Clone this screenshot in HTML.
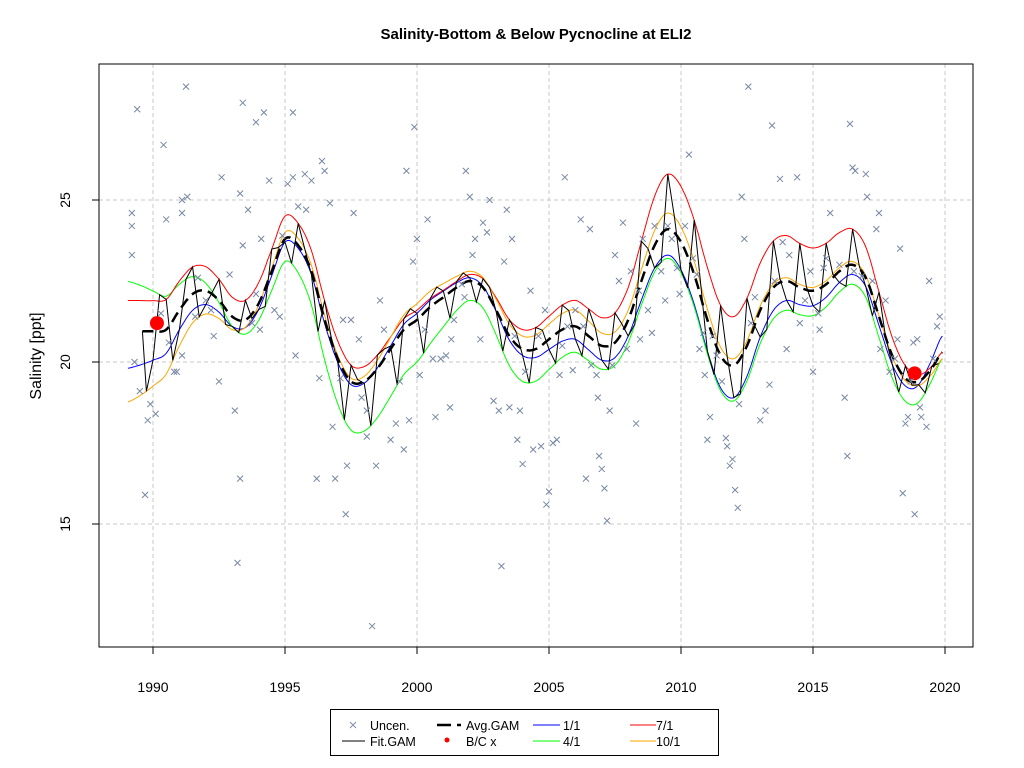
<!DOCTYPE html>
<html><head><meta charset="utf-8"><style>
html,body{margin:0;padding:0;background:#fff;}
svg{display:block;font-family:"Liberation Sans",Arial,sans-serif;}
</style></head><body>
<svg id="chart" width="1024" height="768" viewBox="0 0 1024 768" xmlns="http://www.w3.org/2000/svg">
<rect width="1024" height="768" fill="#fff"/>
<text x="536" y="39" text-anchor="middle" font-size="15" font-weight="bold">Salinity-Bottom &amp; Below Pycnocline at ELI2</text>
<text transform="translate(41,356) rotate(-90)" text-anchor="middle" font-size="16">Salinity [ppt]</text>
<g id="grid"></g>
<g id="curves"></g>
<g id="points"></g>
<rect x="99" y="64" width="874" height="583" fill="none" stroke="#000" stroke-width="1"/>
<g id="axes"></g>
<g>
<rect x="330.5" y="709.5" width="388" height="46" fill="#fff" stroke="#000"/>
<g><path d="M350,722 l6,6 M356,722 l-6,6" stroke="#8090a8" stroke-width="1"/><text x="370" y="730" font-size="12.5">Uncen.</text></g>
<g><path d="M437,725 h14 M457,725 h4" stroke="#000" stroke-width="2.5"/><text x="466" y="730" font-size="12.5">Avg.GAM</text></g>
<g><path d="M533,725 h27" stroke="#0000ff"/><text x="563" y="730" font-size="12.5">1/1</text></g>
<g><path d="M630,725 h26" stroke="#ff0000"/><text x="656" y="730" font-size="12.5">7/1</text></g>
<g><path d="M342,741 h23" stroke="#000"/><text x="370" y="746" font-size="12.5">Fit.GAM</text></g>
<g><circle cx="447" cy="740" r="2.5" fill="#ff0000"/><text x="466" y="746" font-size="12.5">B/C x</text></g>
<g><path d="M533,741 h27" stroke="#00ff00"/><text x="563" y="746" font-size="12.5">4/1</text></g>
<g><path d="M630,741 h26" stroke="#ffa500"/><text x="656" y="746" font-size="12.5">10/1</text></g>
</g>
</svg>
<script>
const xTicks=[1990,1995,2000,2005,2010,2015,2020];
const yTicks=[15,20,25];
const ptYears=[1989.2,1989.2,1989.2,1989.4,1989.3,1989.5,1989.7,1989.8,1989.9,1990.1,1990.3,1990.4,1990.5,1990.6,1990.8,1990.9,1991.1,1991.1,1991.25,1991.3,1991.1,1991.6,1991.7,1992.0,1992.2,1992.3,1992.5,1992.6,1992.9,1993.1,1993.2,1993.3,1993.3,1993.4,1993.4,1993.6,1993.75,1993.9,1994.05,1994.1,1993.9,1994.2,1994.4,1994.6,1994.8,1994.9,1995.1,1995.3,1995.3,1995.4,1995.5,1995.75,1995.8,1996.0,1996.2,1996.3,1996.4,1996.5,1996.7,1996.8,1996.9,1997.1,1997.2,1997.3,1997.35,1997.5,1997.6,1997.8,1997.9,1998.1,1998.1,1998.3,1998.45,1998.6,1998.75,1999.0,1999.2,1999.35,1999.5,1999.6,1999.7,1999.85,1999.9,2000.0,2000.1,2000.3,2000.4,2000.6,2000.7,2000.9,2001.1,2001.25,2001.3,2001.4,2001.7,2001.8,2001.85,2002.0,2002.1,2002.2,2002.4,2002.5,2002.65,2002.75,2002.9,2003.1,2003.2,2003.3,2003.4,2003.5,2003.6,2003.7,2003.8,2003.9,2004.0,2004.1,2004.3,2004.4,2004.6,2004.7,2004.85,2004.9,2005.0,2005.15,2005.3,2005.4,2005.5,2005.6,2005.7,2005.9,2006.0,2006.2,2006.3,2006.4,2006.55,2006.6,2006.8,2006.85,2006.9,2007.0,2007.1,2007.2,2007.3,2007.4,2007.5,2007.65,2007.8,2007.95,2008.1,2008.3,2008.4,2008.45,2008.55,2008.75,2008.9,2009.0,2009.25,2009.4,2009.5,2009.65,2009.85,2009.95,2010.15,2010.3,2010.45,2010.6,2010.7,2010.85,2010.9,2011.0,2011.1,2011.2,2011.35,2011.55,2011.7,2011.75,2011.85,2011.95,2012.05,2012.15,2012.2,2012.3,2012.4,2012.55,2012.65,2012.8,2013.0,2013.2,2013.35,2013.45,2013.55,2013.75,2013.85,2014.0,2014.1,2014.4,2014.5,2014.7,2014.9,2015.0,2015.2,2015.25,2015.4,2015.5,2015.65,2016.0,2016.2,2016.3,2016.4,2016.5,2016.55,2016.6,2016.85,2017.0,2017.05,2017.25,2017.4,2017.5,2017.55,2017.75,2017.9,2018.1,2018.2,2018.3,2018.4,2018.5,2018.6,2018.7,2018.8,2018.85,2018.95,2019.05,2019.1,2019.3,2019.4,2019.55,2019.7,2019.8];
const ptValues=[24.2,24.6,23.3,27.8,20.0,19.1,15.9,18.2,18.7,18.4,21.5,26.7,24.4,20.6,19.7,19.7,24.6,25.0,28.5,25.1,20.2,21.4,22.6,21.9,21.6,20.8,19.4,25.7,22.7,18.5,13.8,16.4,25.2,23.6,28.0,24.7,21.2,22.1,21.0,23.8,27.4,27.7,25.6,21.6,21.4,23.9,25.5,27.7,25.7,20.2,24.8,25.8,24.7,25.6,16.4,19.5,26.2,25.9,24.9,18.0,16.4,19.5,21.3,15.3,16.8,21.3,24.6,20.7,18.9,18.5,17.7,11.85,16.8,21.9,21.0,17.6,18.1,19.4,17.3,25.9,18.2,23.1,27.25,23.8,19.6,21.0,24.4,20.1,18.3,20.1,20.2,18.6,20.7,21.3,22.4,22.0,25.9,25.1,23.3,23.8,20.7,24.3,24.0,25.0,18.8,18.5,13.7,23.1,24.7,18.6,23.8,20.8,17.6,18.5,16.85,19.7,22.2,17.3,20.8,17.4,21.6,15.6,16.0,17.5,17.6,19.6,20.5,25.7,21.1,19.75,21.6,24.4,21.1,16.4,24.1,19.9,19.6,18.9,17.1,16.7,16.1,15.1,18.5,19.9,23.3,22.5,24.3,20.4,22.8,18.1,22.2,20.7,23.8,21.6,20.9,24.2,22.8,21.9,24.2,23.8,22.9,22.1,24.2,26.4,23.2,22.7,20.4,20.9,19.6,17.6,18.3,20.8,20.2,19.4,17.65,17.4,16.8,17.0,16.05,15.5,18.7,25.1,23.8,28.5,21.2,22.0,18.2,18.5,19.3,27.3,22.5,25.65,23.7,20.4,23.3,25.7,21.2,21.9,22.8,19.7,21.5,21.0,22.9,23.2,24.6,23.0,18.9,17.1,27.35,26.0,22.8,25.9,22.65,25.8,25.1,22.5,24.1,24.6,20.4,21.9,19.7,20.1,20.7,23.5,15.95,18.1,18.3,19.4,20.6,15.3,20.7,18.6,18.3,18.0,22.5,20.1,21.1,21.4];
const avgYears=[1989.5,1990,1990.5,1991,1991.5,1992,1992.5,1993,1993.5,1994,1994.5,1995,1995.5,1996,1996.5,1997,1997.5,1998,1998.5,1999,1999.5,2000,2000.5,2001,2001.5,2002,2002.5,2003,2003.5,2004,2004.5,2005,2005.5,2006,2006.5,2007,2007.5,2008,2008.5,2009,2009.5,2010,2010.5,2011,2011.5,2012,2012.5,2013,2013.5,2014,2014.5,2015,2015.5,2016,2016.5,2017,2017.5,2018,2018.5,2019,2019.5,2019.9];
const avgValues=[20.95,20.95,21.0,21.6,22.1,22.2,21.9,21.4,21.3,21.8,22.8,23.8,23.6,22.8,21.3,20.1,19.4,19.4,19.8,20.4,21.0,21.3,21.7,22.0,22.3,22.5,22.3,21.6,20.8,20.4,20.4,20.7,21.0,21.1,20.8,20.5,20.6,21.3,22.5,23.6,24.1,23.7,22.7,21.3,20.2,19.9,20.5,21.6,22.3,22.5,22.3,22.2,22.4,22.8,23.0,22.6,21.4,20.2,19.5,19.4,19.8,20.3];
const offYears=[1989,1991,1993,1995,1997.5,2000,2002,2004,2006,2008,2009.5,2012,2014,2016.5,2018.8,2019.9];
const offJan=[-1.15,-0.6,-0.3,-0.1,-0.1,0.2,0.1,-0.2,-0.4,-0.5,-0.8,-1.0,-0.6,-0.3,-0.2,0.5];
const offApr=[1.55,0.8,-0.3,-0.7,-1.5,-1.3,-0.6,-1.0,-0.8,-0.7,-0.9,-1.1,-0.9,-0.6,-0.7,-0.2];
const offJul=[0.95,0.9,0.6,0.7,0.5,0.3,0.2,0.6,0.8,1.0,1.7,1.5,1.4,1.1,0.3,0.0];
const offOct=[-2.2,-1.1,-0.4,0.2,0.1,0.5,0.3,0.4,0.5,0.3,0.5,0.2,0.1,0.1,-0.1,-0.2];
const bcYears=[1990.15,2018.85];
const bcValues=[21.2,19.65];

const NS="http://www.w3.org/2000/svg";
const X0=99,X1=973,Y0=64,Y1=647;
function xs(t){return 153+(t-1990)*26.4;}
function ys(v){return 362-(v-20)*32.4;}
function mk(tag,attrs,parent){const e=document.createElementNS(NS,tag);for(const k in attrs)e.setAttribute(k,attrs[k]);parent.appendChild(e);return e;}
function cr(xa,ya,t){
  if(t<=xa[0])return ya[0];const n=xa.length;if(t>=xa[n-1])return ya[n-1];
  let i=0;while(xa[i+1]<t)i++;
  const p0=ya[Math.max(i-1,0)],p1=ya[i],p2=ya[i+1],p3=ya[Math.min(i+2,n-1)];
  const u=(t-xa[i])/(xa[i+1]-xa[i]);
  return 0.5*((2*p1)+(-p0+p2)*u+(2*p0-5*p1+4*p2-p3)*u*u+(-p0+3*p1-3*p2+p3)*u*u*u);
}
function avg(t){return cr(avgYears,avgValues,t);}
function seas(arr,t){return cr(avgYears,avgValues,Math.max(t,1989.5))+cr(offYears,arr,t);}

const grid=document.getElementById('grid');
xTicks.forEach(t=>{const l=mk('line',{x1:xs(t),x2:xs(t),y1:Y0,y2:Y1,stroke:'#c8c8c8','stroke-dasharray':'4,3'},grid);

});
yTicks.forEach(v=>{const l=mk('line',{x1:X0,x2:X1,y1:ys(v),y2:ys(v),stroke:'#c8c8c8','stroke-dasharray':'4,3'},grid);

});

const axes=document.getElementById('axes');
xTicks.forEach(t=>{mk('line',{x1:xs(t),x2:xs(t),y1:Y1,y2:Y1+7,stroke:'#000'},axes);
const tx=mk('text',{x:xs(t),y:692,'text-anchor':'middle','font-size':'14'},axes);tx.textContent=t;

});
yTicks.forEach(v=>{mk('line',{x1:X0-7,x2:X0,y1:ys(v),y2:ys(v),stroke:'#000'},axes);
const tx=mk('text',{transform:`translate(70,${ys(v)}) rotate(-90)`,'text-anchor':'middle','font-size':'14'},axes);tx.textContent=v;

});

const pts=document.getElementById('points');
ptYears.forEach((t,i)=>{const x=xs(t),y=ys(ptValues[i]);
const p=mk('path',{d:`M${x-3},${y-3}L${x+3},${y+3}M${x+3},${y-3}L${x-3},${y+3}`,stroke:'#7888a4','stroke-width':'1'},pts);

});

const cv=document.getElementById('curves');
function pathFrom(fn,t0,t1,step){let d='';for(let t=t0;t<=t1+1e-9;t+=step){d+=(d?'L':'M')+xs(t).toFixed(1)+','+ys(fn(t)).toFixed(1);}return d;}
const seasonal=[[offJan,'#0000ff','curve-1-1'],[offApr,'#00ff00','curve-4-1'],[offJul,'#ff0000','curve-7-1'],[offOct,'#ffa500','curve-10-1']];
seasonal.forEach(s=>{const p=mk('path',{d:pathFrom(t=>seas(s[0],t),1989.05,2019.9,0.05),fill:'none',stroke:s[1],'stroke-width':'1'},cv);

});
// Fit.GAM: zigzag through the seasonal curves at quarter-year nodes
const seasArrs=[offJan,offApr,offJul,offOct];
let fd='';
for(let t=1989.75;t<=2019.9+1e-9;t+=0.25){
  const q=Math.round((t-Math.floor(t))*4)%4;
  const v=seas(seasArrs[q],t);
  fd+=(fd?'L':'M')+xs(t).toFixed(1)+','+ys(v).toFixed(1);
}
const fp=mk('path',{d:'M'+xs(1989.6).toFixed(1)+','+ys(avg(1989.6)).toFixed(1)+'L'+fd.slice(1),fill:'none',stroke:'#000','stroke-width':'1'},cv);


const ap=mk('path',{d:pathFrom(avg,1989.6,2019.9,0.05),fill:'none',stroke:'#000','stroke-width':'2.5','stroke-dasharray':'11,6'},cv);


bcYears.forEach((t,i)=>{const c=mk('circle',{cx:xs(t),cy:ys(bcValues[i]),r:7,fill:'#ff0000'},cv);

});
</script>
</body></html>
